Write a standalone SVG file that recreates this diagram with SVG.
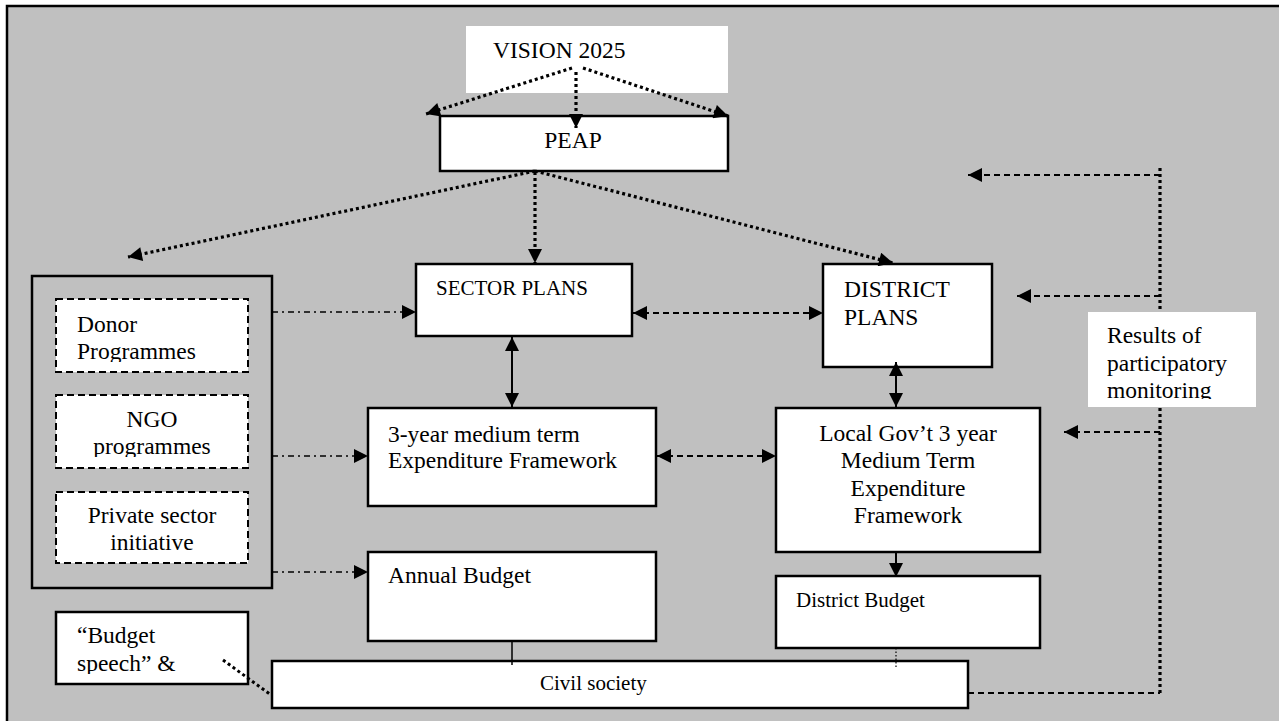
<svg xmlns="http://www.w3.org/2000/svg" width="1279" height="721" viewBox="0 0 1279 721">
  <style>
    .box { fill: #ffffff; stroke: #000000; stroke-width: 2.5; }
    .dbox { fill: #ffffff; stroke: #000000; stroke-width: 2; stroke-dasharray: 7 4; }
    .plain { fill: #ffffff; stroke: none; }
    .frame { fill: none; stroke: #000000; stroke-width: 2.5; }
    text { font-family: "Liberation Serif", Tinos, "Times New Roman", "DejaVu Serif", "Noto Serif", serif; font-size: 23.5px; fill: #000000; }
    .sm { font-size: 21px; }
    .mid { text-anchor: middle; }
    .dots { fill: none; stroke: #000000; stroke-width: 3.2; stroke-dasharray: 3 3; }
    .dash { fill: none; stroke: #000000; stroke-width: 2; stroke-dasharray: 6 4; }
    .dashdot { fill: none; stroke: #000000; stroke-width: 1.6; stroke-dasharray: 6 4 2 4; }
    .solid { fill: none; stroke: #000000; stroke-width: 2; }
    .fine { fill: none; stroke: #000000; stroke-width: 1.2; stroke-dasharray: 1.5 2; }
  </style>
  <defs>
    <marker id="arrow" viewBox="0 0 10 10" refX="10" refY="5" markerWidth="15" markerHeight="14" markerUnits="userSpaceOnUse" orient="auto-start-reverse">
      <path d="M0,0 L10,5 L0,10 z" fill="#000000"/>
    </marker>
    <clipPath id="clipDonor"><rect x="56" y="299" width="192" height="63"/></clipPath>
    <clipPath id="clipNgo"><rect x="56" y="395" width="192" height="62"/></clipPath>
    <clipPath id="clipSpeech"><rect x="56" y="612" width="192" height="62"/></clipPath>
    <clipPath id="clipResults"><rect x="1088" y="312" width="168" height="87"/></clipPath>
  </defs>

  <!-- page background and frame -->
  <rect x="0" y="0" width="1279" height="721" fill="#ffffff"/>
  <rect x="7" y="6" width="1272" height="715" fill="#c0c0c0"/>
  <path class="frame" d="M7,721 L7,6 L1279,6"/>

  <g id="vision">
    <rect class="plain" x="466" y="26" width="262" height="67"/>
    <text x="493" y="58">VISION 2025</text>
  </g>

  <g id="peap">
    <rect class="box" x="440" y="116" width="288" height="55"/>
    <text class="mid" x="573" y="148">PEAP</text>
  </g>

  <g id="external">
    <rect class="frame" x="32" y="276" width="240" height="312"/>
  </g>

  <g id="donor">
    <rect class="dbox" x="56" y="299" width="192" height="73"/>
    <g clip-path="url(#clipDonor)">
      <text x="77" y="332">Donor</text>
      <text x="77" y="359">Programmes</text>
    </g>
  </g>

  <g id="ngo">
    <rect class="dbox" x="56" y="395" width="192" height="73"/>
    <g clip-path="url(#clipNgo)">
      <text class="mid" x="152" y="427">NGO</text>
      <text class="mid" x="152" y="454">programmes</text>
    </g>
  </g>

  <g id="private">
    <rect class="dbox" x="56" y="492" width="192" height="71"/>
    <text class="mid" x="152" y="523">Private sector</text>
    <text class="mid" x="152" y="550">initiative</text>
  </g>

  <g id="speech">
    <rect class="box" x="56" y="612" width="192" height="72"/>
    <g clip-path="url(#clipSpeech)">
      <text x="77" y="643">“Budget</text>
      <text x="77" y="671">speech” &amp;</text>
    </g>
  </g>

  <g id="sector-plans">
    <rect class="box" x="416" y="264" width="216" height="72"/>
    <text class="sm" x="436" y="295">SECTOR PLANS</text>
  </g>

  <g id="district-plans">
    <rect class="box" x="823" y="264" width="169" height="103"/>
    <text x="844" y="297">DISTRICT</text>
    <text x="844" y="325">PLANS</text>
  </g>

  <g id="mtef">
    <rect class="box" x="368" y="408" width="288" height="98"/>
    <text x="388" y="442">3-year medium term</text>
    <text x="388" y="468">Expenditure Framework</text>
  </g>

  <g id="local-mtef">
    <rect class="box" x="776" y="408" width="264" height="144"/>
    <text class="mid" x="908" y="441">Local Gov’t 3 year</text>
    <text class="mid" x="908" y="468">Medium Term</text>
    <text class="mid" x="908" y="496">Expenditure</text>
    <text class="mid" x="908" y="523">Framework</text>
  </g>

  <g id="annual-budget">
    <rect class="box" x="368" y="552" width="288" height="89"/>
    <text x="388" y="583">Annual Budget</text>
  </g>

  <g id="district-budget">
    <rect class="box" x="776" y="576" width="264" height="72"/>
    <text class="sm" x="796" y="607">District Budget</text>
  </g>

  <g id="civil-society">
    <rect class="box" x="272" y="661" width="696" height="47"/>
    <text class="sm" x="540" y="690">Civil society</text>
  </g>

  <g id="connectors">
    <!-- vision to PEAP -->
    <path class="dots" d="M572,68 L426,114" marker-end="url(#arrow)"/>
    <path class="dots" d="M576,72 L576,128" marker-end="url(#arrow)"/>
    <path class="dots" d="M583,68 L728,116" marker-end="url(#arrow)"/>
    <!-- PEAP to plans -->
    <path class="dots" d="M535,171 L128,257" marker-end="url(#arrow)"/>
    <path class="dots" d="M535,172 L535,263" marker-end="url(#arrow)"/>
    <path class="dots" d="M535,171 L893,263" marker-end="url(#arrow)"/>
    <!-- external programmes -->
    <path class="dashdot" d="M272,312 L416,312" marker-end="url(#arrow)"/>
    <path class="dashdot" d="M272,456 L368,456" marker-end="url(#arrow)"/>
    <path class="dashdot" d="M272,572 L368,572" marker-end="url(#arrow)"/>
    <!-- sector / district links -->
    <path class="dash" d="M633,313 L823,313" marker-start="url(#arrow)" marker-end="url(#arrow)"/>
    <path class="dash" d="M657,456 L776,456" marker-start="url(#arrow)" marker-end="url(#arrow)"/>
    <path class="solid" d="M512,337 L512,407" marker-start="url(#arrow)" marker-end="url(#arrow)"/>
    <path class="solid" d="M896,362 L896,407" marker-start="url(#arrow)" marker-end="url(#arrow)"/>
    <path class="solid" d="M896,552 L896,577" marker-end="url(#arrow)"/>
    <!-- budgets to civil society -->
    <path class="solid" d="M512,641 L512,665" style="stroke-width:1.5"/>
    <path class="fine" d="M896,648 L896,668"/>
    <path class="dots" d="M223,660 L271,695" style="stroke-width:3"/>
    <!-- participatory monitoring feedback -->
    <path class="dots" d="M1160,168 L1160,693"/>
    <path class="dash" d="M968,693 L1160,693"/>
    <path class="dash" d="M1160,175 L968,175" marker-end="url(#arrow)"/>
    <path class="dash" d="M1160,296 L1017,296" marker-end="url(#arrow)"/>
    <path class="dash" d="M1160,432 L1064,432" marker-end="url(#arrow)"/>
  </g>

  <g id="results">
    <rect class="plain" x="1088" y="312" width="168" height="95"/>
    <g clip-path="url(#clipResults)">
      <text x="1107" y="343">Results of</text>
      <text x="1107" y="371">participatory</text>
      <text x="1107" y="398">monitoring</text>
    </g>
  </g>
</svg>
